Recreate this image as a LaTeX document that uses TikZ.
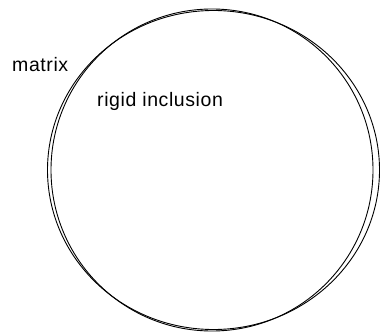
\documentclass[tikz,border=0pt]{standalone}
\usepackage{fontspec}
\setmainfont{Liberation Sans}[LetterSpace=3]
\begin{document}
\begin{tikzpicture}[x=1pt,y=1pt,
  outline/.style={draw=black,line width=0.9pt},
  lbl/.style={font=\fontsize{19.5}{22}\selectfont,inner sep=0pt,anchor=base west}]
\useasboundingbox (0,0) rectangle (380,335);
\node[outline,circle,minimum size=322pt,inner sep=0pt] (incl) at (212,165) {};
\draw[outline] (213.5,165) ellipse [x radius=166, y radius=159.5];
\node[lbl] (matrix) at (12,263) {matrix};
\node[lbl] (rigid) at (97,228) {rigid inclusion};
\end{tikzpicture}
\end{document}
